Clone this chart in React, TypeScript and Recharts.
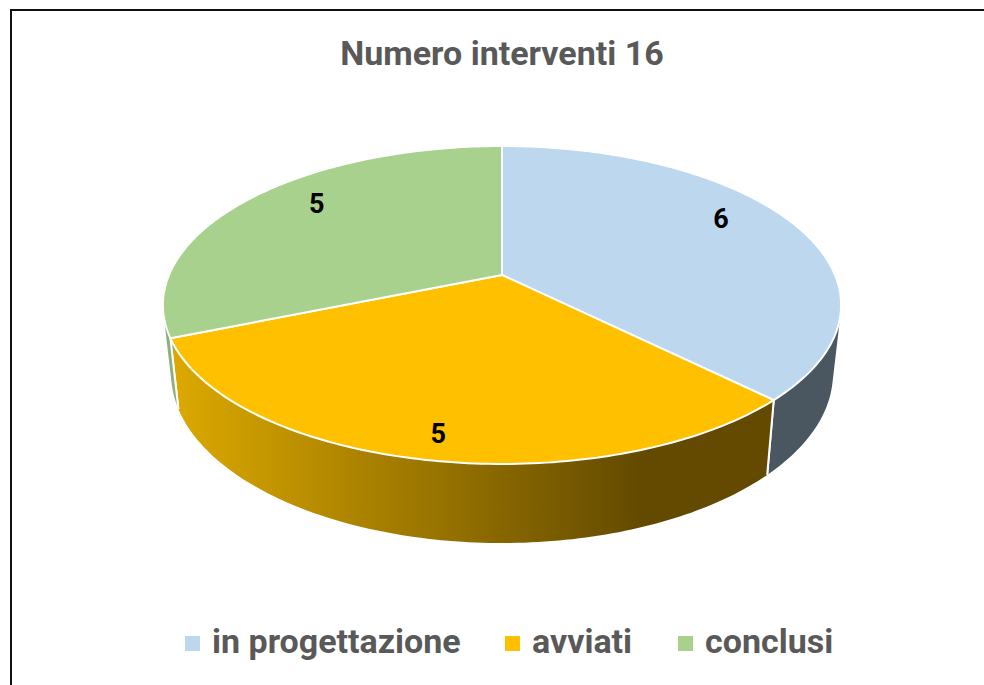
import { Legend, Pie, PieChart } from "recharts";

const categories = ["in progettazione", "avviati", "conclusi"];
const counts = [6, 5, 5];
const topColors = ["#bdd7ee", "#ffc000", "#a9d18e"];
const wallColors = ["#4a5660", "url(#wall-orange)", "#8fb07c"];
const titleText = "Numero interventi 16";

const data = categories.map((name, i) => ({ name, value: counts[i], fill: topColors[i] }));

// perspective of the Excel 3D pie: front of the disc is stretched, back is squeezed
const TILT = 0.4604;
const PERSPECTIVE = 0.1887;
const BASE_X = 325 / 333;
const BASE_Y = 163.5 / 333;
const BASE_SHIFT = 66.5;

// label placement, radius fraction + nudge, per slice
const labelSpots = [
  { r: 0.75, dx: 0, dy: -14 },
  { r: 0.885, dx: 5, dy: 0 },
  { r: 0.72, dx: 0, dy: -14 },
];

const legendLefts = [0, 320, 493];

const font = "Roboto, sans-serif";

type Pt = { x: number; y: number };

function project(cx: number, cy: number, radius: number, angle: number, frac = 1): Pt {
  const a = (angle * Math.PI) / 180;
  const u = frac * Math.cos(a);
  const v = -frac * Math.sin(a);
  const d = 1 - PERSPECTIVE * v;
  return { x: cx + (radius * u) / d, y: cy + (radius * TILT * v) / d };
}

function projectBase(cx: number, cy: number, radius: number, angle: number): Pt {
  const a = (angle * Math.PI) / 180;
  const u = Math.cos(a);
  const v = -Math.sin(a);
  const d = 1 - PERSPECTIVE * v;
  return { x: cx + (radius * BASE_X * u) / d, y: cy + BASE_SHIFT + (radius * BASE_Y * v) / d };
}

function arcAngles(start: number, end: number) {
  const steps = Math.ceil(Math.abs(end - start));
  return Array.from({ length: steps + 1 }, (_, i) => start + ((end - start) * i) / steps);
}

// same winding on every quad, otherwise overlaps cancel out under nonzero fill
function quadPath(points: Pt[]) {
  const area = points.reduce((sum, p, i) => {
    const q = points[(i + 1) % points.length];
    return sum + p.x * q.y - q.x * p.y;
  }, 0);
  const ordered = area < 0 ? [...points].reverse() : points;
  return ordered.map((p, i) => `${i === 0 ? "M" : "L"}${p.x},${p.y}`).join(" ") + " Z";
}

function TopSlice(props: any) {
  const { cx, cy, outerRadius, startAngle, endAngle, fill } = props;
  const rim = arcAngles(startAngle, endAngle).map((a) => project(cx, cy, outerRadius, a));
  const d = `M${cx},${cy} ` + rim.map((p) => `L${p.x},${p.y}`).join(" ") + " Z";
  return <path d={d} fill={fill} stroke="#fff" strokeWidth={2} strokeLinejoin="round" />;
}

// one quad per degree in a single path, so the outline follows the silhouette where the rim turns back
function WallSlice(props: any) {
  const { cx, cy, outerRadius, startAngle, endAngle, name } = props;
  const color = wallColors[categories.indexOf(name)];
  const angles = arcAngles(startAngle, endAngle);
  const upper = angles.map((a) => project(cx, cy, outerRadius, a));
  const lower = angles.map((a) => projectBase(cx, cy, outerRadius, a));
  const last = angles.length - 1;
  const d = angles
    .slice(1)
    .map((_, i) => quadPath([upper[i], upper[i + 1], lower[i + 1], lower[i]]))
    .join(" ");
  return (
    <g>
      <path d={d} fill={color} fillRule="nonzero" />
      <line x1={upper[0].x} y1={upper[0].y} x2={lower[0].x} y2={lower[0].y} stroke="#fff" strokeWidth={2} />
      <line x1={upper[last].x} y1={upper[last].y} x2={lower[last].x} y2={lower[last].y} stroke="#fff" strokeWidth={2} />
    </g>
  );
}

function SliceLabel(props: any) {
  const { cx, cy, outerRadius, midAngle, index, value } = props;
  const spot = labelSpots[index];
  const p = project(cx, cy, outerRadius, midAngle, spot.r);
  return (
    <text x={p.x + spot.dx} y={p.y + spot.dy} textAnchor="middle" dominantBaseline="central" fontFamily={font} fontWeight={700} fontSize={27} fill="#000">
      {value}
    </text>
  );
}

// the two Pies both feed the legend, so it is drawn straight from the data
function LegendRow() {
  return (
    <div style={{ position: "relative", height: 40, fontFamily: font, fontWeight: 700, fontSize: 34, color: "#595959", lineHeight: "40px" }}>
      {data.map((item, i) => (
        <div key={item.name} style={{ position: "absolute", left: legendLefts[i], top: 0, display: "flex", alignItems: "center", whiteSpace: "nowrap" }}>
          <i style={{ width: 15, height: 15, background: item.fill, marginRight: 12, marginTop: 4 }} />
          <span>{item.name}</span>
        </div>
      ))}
    </div>
  );
}

export default function App() {
  return (
    <div style={{ position: "relative", width: 984, height: 685, background: "#fff", overflow: "hidden" }}>
      <style>{"body{margin:0}"}</style>
      <div style={{ position: "absolute", left: 10, top: 9, right: -4, bottom: -4, borderTop: "2px solid #111", borderLeft: "2px solid #111" }} />
      <PieChart width={984} height={685} margin={{ top: 0, right: 0, bottom: 0, left: 0 }} style={{ position: "absolute", left: 0, top: 0 }}>
        <defs>
          <linearGradient id="wall-orange" gradientUnits="userSpaceOnUse" x1={178} x2={640} y1={0} y2={0}>
            <stop offset="0%" stopColor="#dba800" />
            <stop offset="100%" stopColor="#634a00" />
          </linearGradient>
        </defs>
        <text x={502} y={65} textAnchor="middle" fontFamily={font} fontWeight={700} fontSize={34} fill="#595959">
          {titleText}
        </text>
        <Pie
          data={data}
          dataKey="value"
          nameKey="name"
          cx={502}
          cy={275}
          outerRadius={333}
          startAngle={90}
          endAngle={-270}
          legendType="none"
          shape={WallSlice}
          isAnimationActive={false}
        />
        <Pie
          data={data}
          dataKey="value"
          nameKey="name"
          cx={502}
          cy={275}
          outerRadius={333}
          startAngle={90}
          endAngle={-270}
          shape={TopSlice}
          label={SliceLabel}
          labelLine={false}
          isAnimationActive={false}
        />
        <Legend content={LegendRow} wrapperStyle={{ left: 185, top: 621, width: 760 }} />
      </PieChart>
    </div>
  );
}
